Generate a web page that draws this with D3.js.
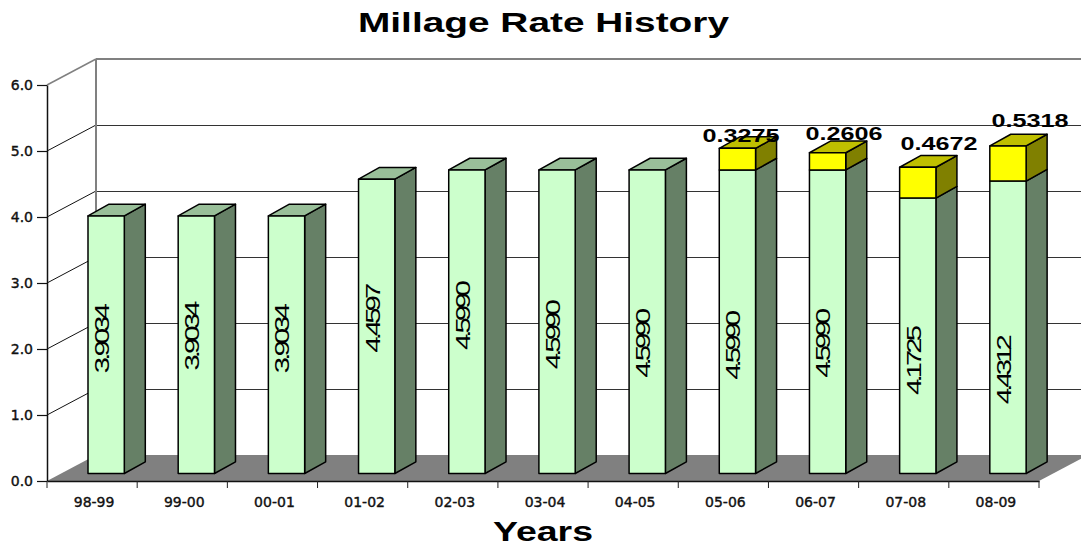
<!DOCTYPE html>
<html>
<head>
<meta charset="utf-8">
<title>Millage Rate History</title>
<script src="https://cdn.jsdelivr.net/npm/d3@7"></script>
<style>
  html, body { margin: 0; padding: 0; background: #fff; overflow: hidden; }
  svg { display: block; }
</style>
</head>
<body>
<div id="chart"></div>
<script>
const years = ["98-99","99-00","00-01","01-02","02-03","03-04","04-05","05-06","06-07","07-08","08-09"];
const baseRates = [3.9034,3.9034,3.9034,4.4597,4.5990,4.5990,4.5990,4.5990,4.5990,4.1725,4.4312];
const addedRates = [0,0,0,0,0,0,0,0.3275,0.2606,0.4672,0.5318];
const yTicks = [0,1,2,3,4,5,6];

const width = 1081, height = 543;
const margin = {top: 85, right: 42, bottom: 62, left: 47};

// 3d look: how far the back wall sits from the front plane, and how deep a bar is
const wall = {dx: 49, dy: 26};
const depth = {dx: 21, dy: 11.7};
const barLift = 7.5, barInset = 41, barWidth = 36.3;

const svg = d3.select("#chart").append("svg")
  .attr("width", width)
  .attr("height", height);

const x = d3.scaleBand()
  .domain(years)
  .range([margin.left, width - margin.right]);

const y = d3.scaleLinear()
  .domain([0, 6])
  .range([height - margin.bottom, margin.top]);

const right = width - margin.right;

// side wall lines, top one is grey like the wall border
svg.append("g").selectAll("line")
  .data(yTicks.slice(1))
  .join("line")
  .attr("x1", margin.left)
  .attr("x2", margin.left + wall.dx)
  .attr("y1", d => y(d))
  .attr("y2", d => y(d) - wall.dy)
  .attr("stroke", d => d == 6 ? "#808080" : "#111")
  .attr("stroke-width", d => d == 6 ? 1.5 : 1);

// back wall lines
svg.append("g").selectAll("line")
  .data(yTicks.slice(1))
  .join("line")
  .attr("x1", margin.left + wall.dx)
  .attr("x2", width)
  .attr("y1", d => y(d) - wall.dy)
  .attr("y2", d => y(d) - wall.dy)
  .attr("stroke", d => d == 6 ? "#808080" : "#333")
  .attr("stroke-width", d => d == 6 ? 2 : 1)
  .attr("shape-rendering", "crispEdges");

svg.append("line")
  .attr("x1", margin.left + wall.dx)
  .attr("x2", margin.left + wall.dx)
  .attr("y1", y(6) - wall.dy)
  .attr("y2", y(0) - wall.dy)
  .attr("stroke", "#808080")
  .attr("stroke-width", 2)
  .attr("shape-rendering", "crispEdges");

// floor
svg.append("polygon")
  .attr("points", [
    [margin.left, y(0)],
    [right, y(0)],
    [right + wall.dx, y(0) - wall.dy],
    [margin.left + wall.dx, y(0) - wall.dy]
  ].join(" "))
  .attr("fill", "#808080");

// axes
const yAxis = svg.append("g")
  .attr("transform", "translate(" + margin.left + ",0)")
  .call(d3.axisLeft(y).tickValues(yTicks).tickFormat(d3.format(".1f")).tickSize(10).tickPadding(4).tickSizeOuter(0));

const xAxis = svg.append("g")
  .attr("transform", "translate(0," + y(0) + ")")
  .call(d3.axisBottom(x).tickSize(0).tickPadding(16).tickSizeOuter(0));

xAxis.selectAll(".sep")
  .data(d3.range(years.length + 1))
  .join("line")
  .attr("class", "sep")
  .attr("x1", d => margin.left + d * x.bandwidth())
  .attr("x2", d => margin.left + d * x.bandwidth())
  .attr("y1", 0)
  .attr("y2", 7)
  .attr("stroke", "#222");

svg.selectAll(".domain")
  .attr("stroke", "#111")
  .attr("stroke-width", 1.5);
yAxis.selectAll(".tick line").attr("stroke", "#111").attr("stroke-width", 1.2);

yAxis.selectAll("text")
  .style("font-family", "DejaVu Sans")
  .style("font-size", "14px")
  .attr("fill", "#111")
  .attr("stroke", "#111")
  .attr("stroke-width", 0.4);

xAxis.selectAll("text")
  .attr("dx", 2)
  .style("font-family", "DejaVu Sans")
  .style("font-size", "14px")
  .attr("fill", "#111")
  .attr("stroke", "#111")
  .attr("stroke-width", 0.4);

// one stacked 3d box
function drawBox(g, left, from, to, colors, withTop) {
  const w = barWidth;
  const yTop = y(to) - barLift, yBot = y(from) - barLift;

  g.append("polygon")
    .attr("points", [
      [left + w, yTop],
      [left + w + depth.dx, yTop - depth.dy],
      [left + w + depth.dx, yBot - depth.dy],
      [left + w, yBot]
    ].join(" "))
    .attr("fill", colors.side);

  if (withTop) {
    g.append("polygon")
      .attr("points", [
        [left, yTop],
        [left + depth.dx, yTop - depth.dy],
        [left + w + depth.dx, yTop - depth.dy],
        [left + w, yTop]
      ].join(" "))
      .attr("fill", colors.top);
  }

  g.append("rect")
    .attr("x", left)
    .attr("y", yTop)
    .attr("width", w)
    .attr("height", yBot - yTop)
    .attr("fill", colors.front);

  g.selectAll("polygon,rect")
    .attr("stroke", "#000")
    .attr("stroke-width", 1.5)
    .attr("stroke-linejoin", "round");
}

const baseColors = {front: "#CCFFCC", side: "#668066", top: "#99BF99"};
const addColors = {front: "#FFFF00", side: "#808000", top: "#BFBF00"};

years.forEach((yr, i) => {
  const g = svg.append("g").attr("class", "bar");
  const left = x(yr) + barInset;
  drawBox(g.append("g"), left, 0, baseRates[i], baseColors, addedRates[i] == 0);
  if (addedRates[i] > 0) {
    drawBox(g.append("g"), left, baseRates[i], baseRates[i] + addedRates[i], addColors, true);
  }
});

// value labels were moved by hand in the original, so they don't follow the bars exactly
const baseLabelAt = [2.02,2.06,2.02,2.33,2.37,2.08,1.95,1.92,1.95,1.69,1.55];
const addLabelX = [741,844,939,1030];
const addLabelY = [141.5,140,150,127];

svg.append("g").selectAll("text")
  .data(years)
  .join("text")
  .attr("transform", (d, i) => "translate(" + (x(d) + barInset + 21) + "," + (y(baseLabelAt[i]) - barLift) + ") rotate(-90) scale(1.4,1)")
  .attr("text-anchor", "middle")
  .style("font-family", "Liberation Sans")
  .style("font-size", "21px")
  .style("letter-spacing", "-2.85px")
  .attr("fill", "#000")
  .text((d, i) => baseRates[i].toFixed(4));

svg.append("g").selectAll("text")
  .data(addedRates.filter(d => d > 0))
  .join("text")
  .attr("x", (d, i) => addLabelX[i] - 38.5)
  .attr("y", (d, i) => addLabelY[i])
  .attr("textLength", 77)
  .attr("lengthAdjust", "spacingAndGlyphs")
  .style("font-family", "Liberation Sans")
  .style("font-weight", "bold")
  .style("font-size", "18px")
  .attr("fill", "#000")
  .text(d => d.toFixed(4));

svg.append("text")
  .attr("x", 358)
  .attr("y", 32)
  .attr("textLength", 371)
  .attr("lengthAdjust", "spacingAndGlyphs")
  .style("font-family", "Liberation Sans")
  .style("font-weight", "bold")
  .style("font-size", "28px")
  .text("Millage Rate History");

svg.append("text")
  .attr("x", 493)
  .attr("y", 541)
  .attr("textLength", 100)
  .attr("lengthAdjust", "spacingAndGlyphs")
  .style("font-family", "Liberation Sans")
  .style("font-weight", "bold")
  .style("font-size", "28px")
  .text("Years");
</script>
</body>
</html>
